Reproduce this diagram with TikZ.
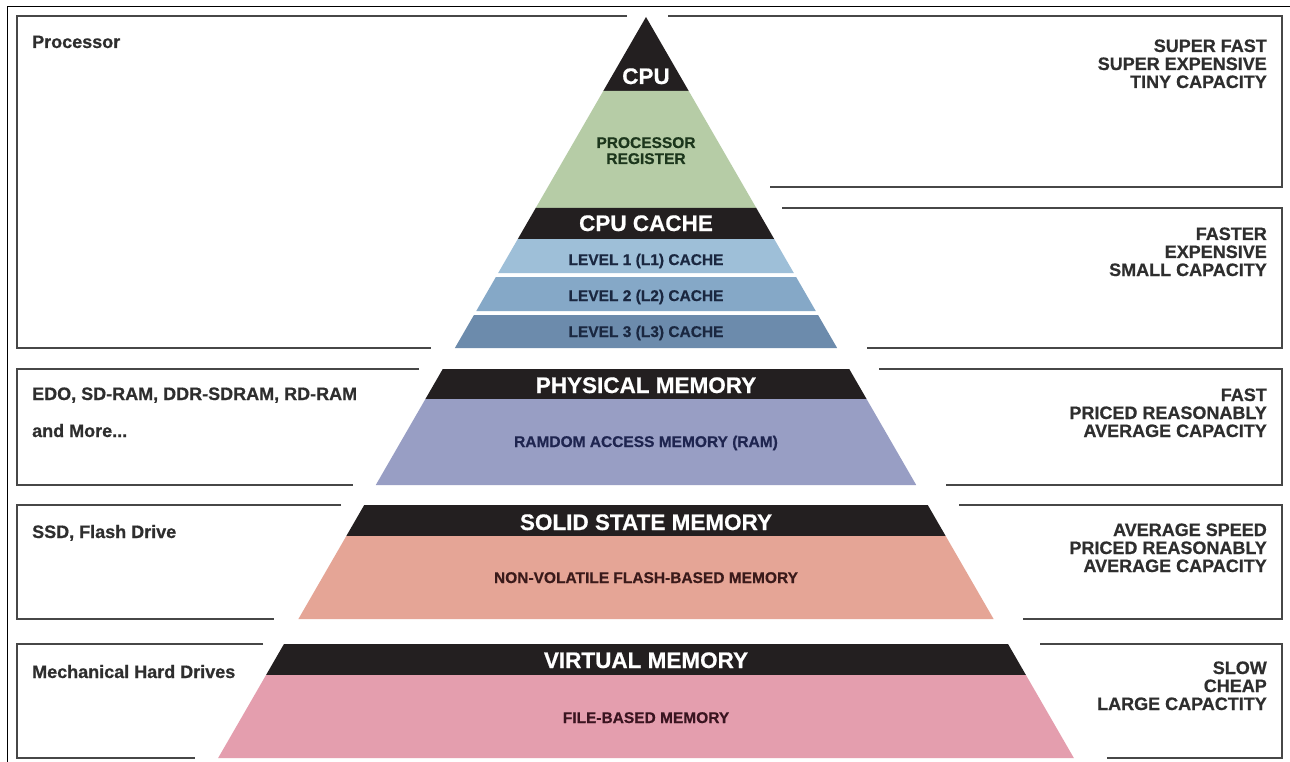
\documentclass[tikz,border=0pt]{standalone}
\usepackage{fontspec}
\setmainfont[BoldFeatures={FakeBold=0.6}]{Liberation Sans}
\definecolor{bandblack}{HTML}{231F20}
\definecolor{regreen}{HTML}{B6CCA6}
\definecolor{lone}{HTML}{9EBFD8}
\definecolor{ltwo}{HTML}{85A8C7}
\definecolor{lthree}{HTML}{6C8BAC}
\definecolor{rampurple}{HTML}{989EC4}
\definecolor{ssdsalmon}{HTML}{E5A596}
\definecolor{virtpink}{HTML}{E49EAE}
\definecolor{boxgray}{HTML}{474747}
\definecolor{labelgray}{HTML}{2E2E2E}
\definecolor{greentext}{HTML}{1C361C}
\definecolor{navytext}{HTML}{1A2740}
\definecolor{ramtext}{HTML}{1F2550}
\definecolor{ssdtext}{HTML}{3A1A1A}
\definecolor{virttext}{HTML}{3A1420}
\newcommand\pyrband[3]{%
  \pgfmathsetmacro\pyrA{0.5774*(#1-17)}%
  \pgfmathsetmacro\pyrB{0.5774*(#2-17)}%
  \fill[#3] ({646-\pyrA},{#1}) -- ({646+\pyrA},{#1}) -- ({646+\pyrB},{#2}) -- ({646-\pyrB},{#2}) -- cycle;%
}
\tikzset{
  bandtitle/.style={text=white, font=\fontsize{22.5}{27}\selectfont\bfseries, anchor=base, inner sep=0pt},
  bandsub/.style={font=\fontsize{15.5}{18}\selectfont\bfseries, anchor=base, inner sep=0pt},
  leftlbl/.style={text=labelgray, font=\fontsize{18}{18}\selectfont\bfseries, anchor=base west, inner sep=0pt},
  rightlbl/.style={text=labelgray, font=\fontsize{18}{18}\selectfont\bfseries, anchor=base east, inner sep=0pt},
  boxline/.style={draw=boxgray, line width=2.3pt, line join=miter},
  frameline/.style={draw=black, line width=1pt}
}
\begin{document}
\begin{tikzpicture}[x=1pt,y=-1pt]
\useasboundingbox (0,0) rectangle (1290,762);
\fill[white] (0,0) rectangle (1290,762);
% outer frame
\draw[frameline] (7,762) -- (7,7) -- (1290,7);
% left boxes
\draw[boxline] (627,16) -- (17,16) -- (17,348) -- (431,348);
\draw[boxline] (419,369) -- (17,369) -- (17,485) -- (353,485);
\draw[boxline] (341,505) -- (17,505) -- (17,619) -- (274,619);
\draw[boxline] (263,644) -- (17,644) -- (17,758) -- (195,758);
% right boxes
\draw[boxline] (668,16) -- (1282,16) -- (1282,187) -- (770,187);
\draw[boxline] (782,208) -- (1282,208) -- (1282,348) -- (867,348);
\draw[boxline] (879,369) -- (1282,369) -- (1282,485) -- (946,485);
\draw[boxline] (959,505) -- (1282,505) -- (1282,619) -- (1023,619);
\draw[boxline] (1040,644) -- (1282,644) -- (1282,758) -- (1107,758);
% pyramid
\pyrband{17}{91}{bandblack}
\pyrband{91}{208}{regreen}
\pyrband{208}{239}{bandblack}
\pyrband{239}{273}{lone}
\pyrband{277}{311}{ltwo}
\pyrband{315}{348}{lthree}
\pyrband{369}{399}{bandblack}
\pyrband{399}{485}{rampurple}
\pyrband{505}{536}{bandblack}
\pyrband{536}{619}{ssdsalmon}
\pyrband{644}{675}{bandblack}
\pyrband{675}{758}{virtpink}
% pyramid texts
\node[bandtitle] (cpu) at (646,84) {CPU};
\node[bandsub, text=greentext] (preg1) at (646,148) {PROCESSOR};
\node[bandsub, text=greentext] (preg2) at (646,164) {REGISTER};
\node[bandtitle] (cache) at (646,231) {CPU CACHE};
\node[bandsub, text=navytext] (l1) at (646,265) {LEVEL 1 (L1) CACHE};
\node[bandsub, text=navytext] (l2) at (646,301) {LEVEL 2 (L2) CACHE};
\node[bandsub, text=navytext] (l3) at (646,337) {LEVEL 3 (L3) CACHE};
\node[bandtitle] (phys) at (646,393) {PHYSICAL MEMORY};
\node[bandsub, text=ramtext] (ram) at (646,447) {RAMDOM ACCESS MEMORY (RAM)};
\node[bandtitle] (ssd) at (646,530) {SOLID STATE MEMORY};
\node[bandsub, text=ssdtext] (flash) at (646,583) {NON-VOLATILE FLASH-BASED MEMORY};
\node[bandtitle] (virt) at (646,668) {VIRTUAL MEMORY};
\node[bandsub, text=virttext] (file) at (646,723) {FILE-BASED MEMORY};
% left labels
\node[leftlbl] (proc) at (32,48) {Processor};
\node[leftlbl] (edo) at (32,400) {EDO, SD-RAM, DDR-SDRAM, RD-RAM};
\node[leftlbl] (more) at (32,437) {and More...};
\node[leftlbl] (flashdrv) at (32,538) {SSD, Flash Drive};
\node[leftlbl] (mech) at (32,678) {Mechanical Hard Drives};
% right labels
\node[rightlbl] (ra1) at (1267,52) {SUPER FAST};
\node[rightlbl] (ra2) at (1267,70) {SUPER EXPENSIVE};
\node[rightlbl] (ra3) at (1267,88) {TINY CAPACITY};
\node[rightlbl] (rb1) at (1267,240) {FASTER};
\node[rightlbl] (rb2) at (1267,258) {EXPENSIVE};
\node[rightlbl] (rb3) at (1267,276) {SMALL CAPACITY};
\node[rightlbl] (rc1) at (1267,401) {FAST};
\node[rightlbl] (rc2) at (1267,419) {PRICED REASONABLY};
\node[rightlbl] (rc3) at (1267,437) {AVERAGE CAPACITY};
\node[rightlbl] (rd1) at (1267,536) {AVERAGE SPEED};
\node[rightlbl] (rd2) at (1267,554) {PRICED REASONABLY};
\node[rightlbl] (rd3) at (1267,572) {AVERAGE CAPACITY};
\node[rightlbl] (re1) at (1267,674) {SLOW};
\node[rightlbl] (re2) at (1267,692) {CHEAP};
\node[rightlbl] (re3) at (1267,710) {LARGE CAPACTITY};
\end{tikzpicture}
\end{document}
